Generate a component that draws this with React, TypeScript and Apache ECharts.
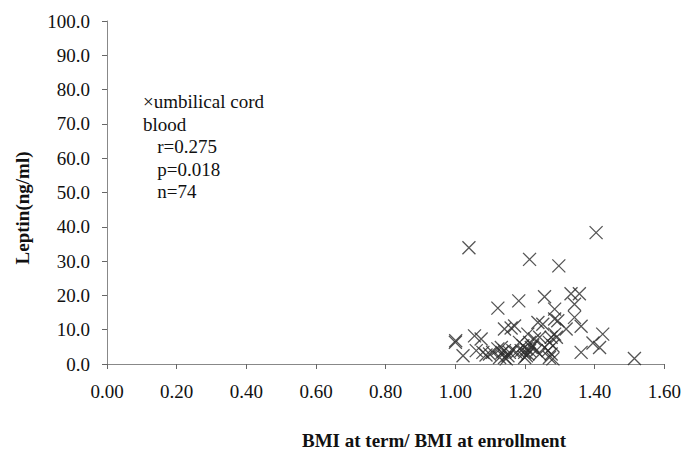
import React, { useEffect, useRef } from "react";
import * as echarts from "echarts";

const xTicks = [0, 0.2, 0.4, 0.6, 0.8, 1.0, 1.2, 1.4, 1.6];
const yTicks = [0, 10, 20, 30, 40, 50, 60, 70, 80, 90, 100];

const bmiRatio = [
  1.404, 1.039, 1.213, 1.297, 1.256, 1.332, 1.356, 1.182, 1.122, 1.342,
  1.285, 1.342, 1.285, 1.294, 1.237, 1.251, 1.170, 1.160, 1.141, 1.361,
  1.318, 1.423, 1.395, 1.414, 1.361, 1.514, 1.001, 1.000, 1.022, 1.055,
  1.074, 1.060, 1.079, 1.098, 1.122, 1.132, 1.134, 1.127, 1.151, 1.146,
  1.184, 1.194, 1.189, 1.199, 1.204, 1.208, 1.213, 1.218, 1.222, 1.199,
  1.204, 1.227, 1.208, 1.242, 1.275, 1.285, 1.270, 1.280, 1.266, 1.275,
  1.270, 1.280, 1.141, 1.155, 1.141, 1.213, 1.165, 1.232, 1.242, 1.175,
  1.088, 1.107, 1.256, 1.290,
];
const leptin = [
  38.3, 33.9, 30.5, 28.6, 19.6, 20.5, 20.5, 18.4, 16.3, 17.4,
  16.0, 13.6, 13.1, 12.6, 12.1, 11.6, 11.1, 10.5, 10.2, 11.0,
  10.2, 8.7, 6.1, 4.8, 3.4, 1.6, 6.8, 6.3, 2.4, 8.2,
  7.3, 3.9, 3.4, 2.9, 4.4, 4.8, 3.4, 1.9, 2.4, 1.5,
  6.3, 5.3, 3.9, 3.4, 4.4, 2.9, 3.9, 4.8, 5.3, 1.9,
  2.4, 7.3, 8.7, 7.8, 7.8, 8.7, 6.3, 5.3, 3.9, 2.9,
  1.9, 1.5, 3.9, 3.4, 1.9, 6.3, 3.9, 3.9, 2.9, 3.4,
  2.6, 3.4, 4.8, 7.8,
];
const legendLines = ["×umbilical cord", "blood", "   r=0.275", "   p=0.018", "   n=74"];
const xTitle = "BMI at term/ BMI at enrollment";
const yTitle = "Leptin(ng/ml)";

const FONT = "Times New Roman, Liberation Serif, DejaVu Serif, serif";

export default function App() {
  const ref = useRef<HTMLDivElement>(null);
  useEffect(() => {
    if (!ref.current) return;
    const chart = echarts.init(ref.current, undefined, { renderer: "svg" });
    const data = bmiRatio.map((x, i) => [x, leptin[i]]);
    chart.setOption({
      animation: false,
      backgroundColor: "#fff",
      textStyle: { fontFamily: FONT },
      grid: { left: 107, right: 19, top: 21, bottom: 86 },
      xAxis: {
        type: "value",
        min: xTicks[0],
        max: xTicks[xTicks.length - 1],
        interval: 0.2,
        splitLine: { show: false },
        axisLine: { show: true, lineStyle: { color: "#888", width: 1 } },
        axisTick: { show: true, length: 5, lineStyle: { color: "#666" } },
        axisLabel: {
          color: "#111",
          fontFamily: FONT,
          fontSize: 19,
          margin: 18,
          formatter: (v: number) => v.toFixed(2),
        },
      },
      yAxis: {
        type: "value",
        min: yTicks[0],
        max: yTicks[yTicks.length - 1],
        interval: 10,
        splitLine: { show: false },
        axisLine: { show: true, lineStyle: { color: "#888", width: 1 } },
        axisTick: { show: true, length: 5, lineStyle: { color: "#666" } },
        axisLabel: {
          color: "#111",
          fontFamily: FONT,
          fontSize: 19,
          margin: 17,
          formatter: (v: number) => v.toFixed(1),
        },
      },
      graphic: [
        ...legendLines.map((t, i) => ({
          type: "text",
          left: 143,
          top: 92 + i * 22.5,
          style: { text: t, fontFamily: FONT, fontSize: 19, fill: "#111" },
        })),
        {
          type: "text",
          x: 434,
          y: 440,
          style: {
            text: xTitle,
            fontFamily: FONT,
            fontSize: 19,
            fontWeight: "bold",
            fill: "#111",
            align: "center",
            verticalAlign: "middle",
          },
        },
        {
          type: "text",
          x: 22,
          y: 208,
          rotation: Math.PI / 2,
          style: {
            text: yTitle,
            fontFamily: FONT,
            fontSize: 19,
            fontWeight: "bold",
            fill: "#111",
            align: "center",
            verticalAlign: "middle",
          },
        },
      ],
      series: [
        {
          type: "scatter",
          data,
          symbol: "path://M0,0L10,10M10,0L0,10",
          symbolSize: 13,
          itemStyle: { color: "transparent", borderColor: "#2a2a2a", borderWidth: 1.3 },
        },
      ],
    });
    return () => chart.dispose();
  }, []);
  return <div ref={ref} style={{ width: 684, height: 450, position: "absolute", left: 0, top: 0 }} />;
}
